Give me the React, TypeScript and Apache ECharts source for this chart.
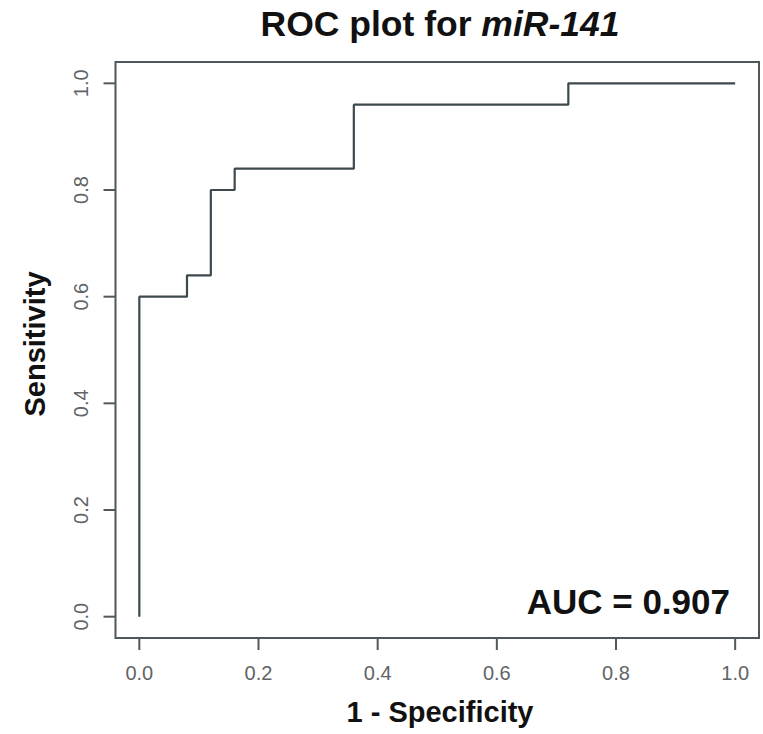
import React, { useEffect, useRef } from "react";
import * as echarts from "echarts";

// ROC curve coordinates (1 - specificity, sensitivity)
const fpr = [0, 0, 0.08, 0.08, 0.12, 0.12, 0.16, 0.16, 0.36, 0.36, 0.72, 0.72, 1];
const tpr = [0, 0.6, 0.6, 0.64, 0.64, 0.8, 0.8, 0.84, 0.84, 0.96, 0.96, 1, 1];
const tickValues = [0, 0.2, 0.4, 0.6, 0.8, 1.0];
const auc = "0.907";
const titleMain = "ROC plot for ";
const titleGene = "miR-141";
const xTitle = "1 - Specificity";
const yTitle = "Sensitivity";

const AXIS_MIN = -0.04;
const AXIS_MAX = 1.04;

export default function App() {
  const ref = useRef<HTMLDivElement>(null);
  useEffect(() => {
    if (!ref.current) return;
    const chart = echarts.init(ref.current, null, { renderer: "svg" });
    const tickFont = "'Liberation Sans Narrow', 'Arial Narrow', 'Liberation Sans', sans-serif";
    const boldFont = "'Liberation Sans', Arial, sans-serif";
    const frameColor = "#4e575b";
    const tickColor = "#50585c";
    const tickLen = 12;
    const axisCommon = {
      type: "value" as const,
      min: AXIS_MIN,
      max: AXIS_MAX,
      splitLine: { show: false },
      axisLine: { show: false, onZero: false },
      axisTick: { show: false },
      axisLabel: {
        customValues: tickValues,
        formatter: (v: number) => v.toFixed(1),
        color: "#606466",
        fontSize: 20,
        fontFamily: tickFont,
        margin: 25,
      },
    };
    const texts: any[] = [
      {
        type: "text",
        id: "title",
        x: 440,
        y: 24,
        style: {
          text: `{a|${titleMain}}{b|${titleGene}}`,
          align: "center",
          verticalAlign: "middle",
          rich: {
            a: { fontSize: 35.5, fontWeight: "bold", fontFamily: boldFont, fill: "#111" },
            b: { fontSize: 35.5, fontWeight: "bold", fontStyle: "italic", fontFamily: boldFont, fill: "#111" },
          },
        },
      },
      {
        type: "text",
        id: "xtitle",
        x: 440,
        y: 712,
        style: {
          text: xTitle,
          align: "center",
          verticalAlign: "middle",
          fontSize: 29,
          fontWeight: "bold",
          fontFamily: boldFont,
          fill: "#111",
        },
      },
      {
        type: "text",
        id: "ytitle",
        x: 35,
        y: 344,
        rotation: Math.PI / 2,
        style: {
          text: yTitle,
          align: "center",
          verticalAlign: "middle",
          fontSize: 29,
          fontWeight: "bold",
          fontFamily: boldFont,
          fill: "#111",
        },
      },
      {
        type: "text",
        id: "auc",
        x: 730,
        y: 601,
        style: {
          text: `AUC = ${auc}`,
          align: "right",
          verticalAlign: "middle",
          fontSize: 35,
          fontWeight: "bold",
          fontFamily: boldFont,
          fill: "#111",
        },
      },
    ];
    chart.setOption({
      animation: false,
      backgroundColor: "#ffffff",
      grid: {
        left: 115.5,
        right: 4,
        top: 62,
        bottom: 96,
        show: true,
        borderColor: frameColor,
        borderWidth: 2,
        backgroundColor: "transparent",
      },
      xAxis: { ...axisCommon },
      yAxis: {
        ...axisCommon,
        axisLabel: { ...axisCommon.axisLabel, rotate: 90 },
      },
      series: [
        {
          type: "line",
          data: fpr.map((x, i) => [x, tpr[i]]),
          showSymbol: false,
          symbol: "none",
          lineStyle: { color: "#3e494d", width: 2.2 },
        },
      ],
      graphic: texts,
    });

    // ticks placed through the axis scales
    const ticks: any[] = [];
    tickValues.forEach((v, i) => {
      const px = chart.convertToPixel({ gridIndex: 0 }, [v, AXIS_MIN]) as number[];
      const py = chart.convertToPixel({ gridIndex: 0 }, [AXIS_MIN, v]) as number[];
      ticks.push({
        type: "line",
        id: `xt${i}`,
        z: 100,
        shape: { x1: px[0], y1: px[1], x2: px[0], y2: px[1] + tickLen },
        style: { stroke: tickColor, lineWidth: 2 },
      });
      ticks.push({
        type: "line",
        id: `yt${i}`,
        z: 100,
        shape: { x1: py[0] - tickLen, y1: py[1], x2: py[0], y2: py[1] },
        style: { stroke: tickColor, lineWidth: 2 },
      });
    });
    chart.setOption({ graphic: [...texts, ...ticks] });
    return () => chart.dispose();
  }, []);
  return (
    <div
      ref={ref}
      style={{ position: "fixed", left: 0, top: 0, width: 763, height: 734, background: "#fff" }}
    />
  );
}
